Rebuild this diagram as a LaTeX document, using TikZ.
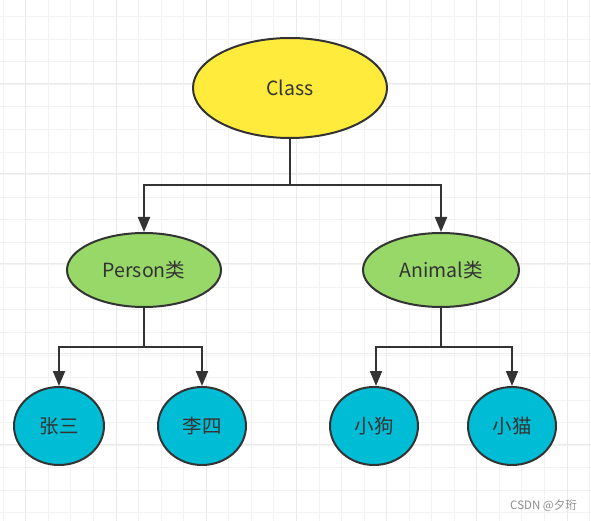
\documentclass[tikz,border=0pt]{standalone}
\usepackage{fontspec}
\setmainfont{Noto Sans CJK SC}
\usetikzlibrary{arrows.meta,shapes.geometric}
\definecolor{cyel}{HTML}{FFEB3B}
\definecolor{cgrn}{HTML}{97D869}
\definecolor{ccyan}{HTML}{00BCD4}
\definecolor{cline}{HTML}{333333}
\definecolor{ctext}{HTML}{333333}
\definecolor{gridthin}{HTML}{F2F2F2}
\definecolor{gridthick}{HTML}{EBEBEB}
\begin{document}
\begin{tikzpicture}[x=1pt,y=-1pt,
  ell/.style={ellipse, draw=cline, line width=2pt, inner sep=0pt, text=ctext, font=\fontsize{19.5}{22}\selectfont},
  conn/.style={draw=cline, line width=2pt, -{Triangle[length=15pt,width=12pt]}},
  plainconn/.style={draw=cline, line width=2pt}]
\useasboundingbox (0,0) rectangle (591,521);
\fill[white] (0,0) rectangle (591,521);
% grid
\foreach \i in {0,...,26} {
  \pgfmathsetmacro{\xx}{3.3+22.55*\i}
  \draw[gridthin, line width=1pt] (\xx,0) -- (\xx,521);
}
\foreach \i in {0,...,23} {
  \pgfmathsetmacro{\yy}{-5.8+22.55*\i}
  \draw[gridthin, line width=1pt] (0,\yy) -- (591,\yy);
}
\foreach \i in {0,...,6} {
  \pgfmathsetmacro{\xx}{25.85+90.2*\i}
  \draw[gridthick, line width=1.1pt] (\xx,0) -- (\xx,521);
}
\foreach \i in {0,...,5} {
  \pgfmathsetmacro{\yy}{-6.9+90.2*\i}
  \draw[gridthick, line width=1.1pt] (0,\yy) -- (591,\yy);
}
% nodes
\node[ell, fill=cyel, minimum width=194pt, minimum height=100pt] (cls) at (290,88) {Class};
\node[ell, fill=cgrn, minimum width=154pt, minimum height=74pt] (per) at (144,270) {Person类};
\node[ell, fill=cgrn, minimum width=156pt, minimum height=74pt] (ani) at (441,270) {Animal类};
\node[ell, fill=ccyan, minimum width=90pt, minimum height=78pt] (zs) at (59,426) {张三};
\node[ell, fill=ccyan, minimum width=88pt, minimum height=78pt] (ls) at (202,426) {李四};
\node[ell, fill=ccyan, minimum width=88pt, minimum height=78pt] (xg) at (374,426) {小狗};
\node[ell, fill=ccyan, minimum width=88pt, minimum height=78pt] (xm) at (512,426) {小猫};
% junctions
\coordinate (j1) at (290,185);
\coordinate (j2) at (144,347);
\coordinate (j3) at (441,347);
% connectors
\draw[plainconn] (cls.south) -- (j1);
\draw[conn] (j1) -| (per.north);
\draw[conn] (j1) -| (ani.north);
\draw[plainconn] (per.south) -- (j2);
\draw[conn] (j2) -| (zs.north);
\draw[conn] (j2) -| (ls.north);
\draw[plainconn] (ani.south) -- (j3);
\draw[conn] (j3) -| ([xshift=2pt]xg.north);
\draw[conn] (j3) -| (xm.north);
% watermark
\node[anchor=base east, text=black!45, font=\fontsize{11.5}{12}\selectfont, inner sep=0pt] (wm) at (577,509) {CSDN @夕珩};
\end{tikzpicture}
\end{document}
